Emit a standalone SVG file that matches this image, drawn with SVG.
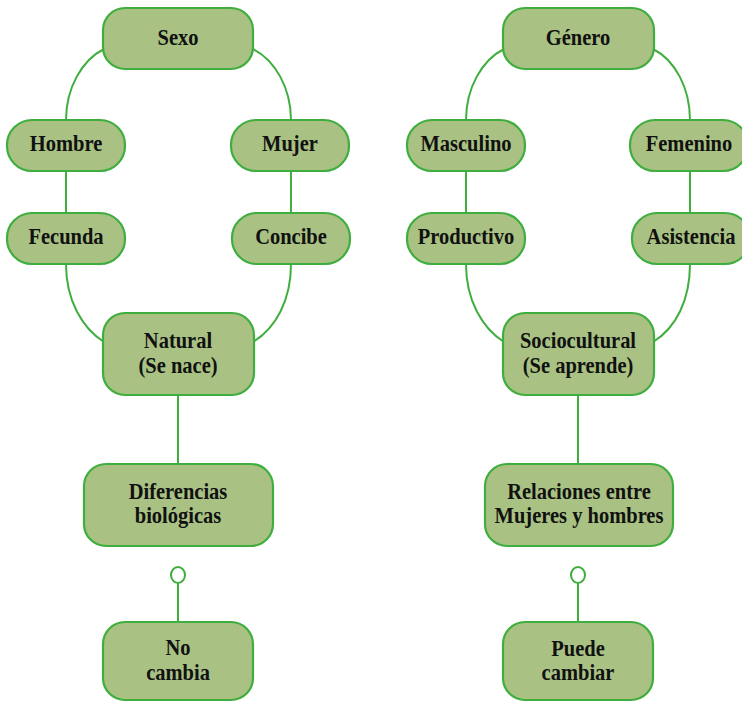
<svg xmlns="http://www.w3.org/2000/svg" width="742" height="702" viewBox="0 0 742 702">
<style>
.n{fill:#a9c283;stroke:#3fae3f;stroke-width:2.2}
.c{fill:none;stroke:#3fae3f;stroke-width:2}
text{font-family:"Liberation Serif","Times New Roman",serif;font-weight:bold;font-size:20.5px;fill:#111;text-anchor:middle}
</style>
<rect width="742" height="702" fill="#fff"/>
<g id="connectors">
<path class="c" d="M104,49 C82,60 66,88 66,120"/>
<path class="c" d="M253,49 C275,60 291,88 291,120"/>
<path class="c" d="M66,171 V213"/>
<path class="c" d="M291,171 V213"/>
<path class="c" d="M66,264 C66,300 82,328 104,342"/>
<path class="c" d="M291,264 C291,300 276,328 253,342"/>
<path class="c" d="M178,395 V464"/>
<path class="c" d="M178,583 V622"/>
<ellipse class="c" cx="178" cy="575" rx="7" ry="8"/>
<path class="c" d="M504,49 C482,60 466,88 466,120"/>
<path class="c" d="M653,49 C675,60 690,88 690,120"/>
<path class="c" d="M466,171 V213"/>
<path class="c" d="M690,171 V213"/>
<path class="c" d="M466,264 C466,300 482,328 504,342"/>
<path class="c" d="M690,264 C690,300 676,328 653,342"/>
<path class="c" d="M578,395 V464"/>
<path class="c" d="M578,583 V622"/>
<ellipse class="c" cx="578" cy="575" rx="7" ry="8"/>
</g>
<g id="sexo"><rect class="n" x="103" y="8" width="150" height="61" rx="22"/><text transform="translate(178,45) scale(1,1.08)">Sexo</text></g>
<g id="hombre"><rect class="n" x="7" y="120" width="118" height="51" rx="25"/><text transform="translate(66,151) scale(1,1.08)">Hombre</text></g>
<g id="mujer"><rect class="n" x="231" y="120" width="118" height="51" rx="25"/><text transform="translate(290,151) scale(1,1.08)">Mujer</text></g>
<g id="fecunda"><rect class="n" x="7" y="213" width="118" height="51" rx="25"/><text transform="translate(66,244) scale(1,1.08)">Fecunda</text></g>
<g id="concibe"><rect class="n" x="232" y="213" width="118" height="51" rx="25"/><text transform="translate(291,244) scale(1,1.08)">Concibe</text></g>
<g id="natural"><rect class="n" x="103" y="313" width="151" height="82" rx="22"/><text transform="translate(178,348) scale(1,1.08)">Natural</text><text transform="translate(178,373) scale(1,1.08)">(Se nace)</text></g>
<g id="diferencias"><rect class="n" x="84" y="464" width="189" height="82" rx="22"/><text transform="translate(178,499) scale(1,1.08)">Diferencias</text><text transform="translate(178,523) scale(1,1.08)">biológicas</text></g>
<g id="nocambia"><rect class="n" x="103" y="622" width="150" height="78" rx="22"/><text transform="translate(178,655) scale(1,1.08)">No</text><text transform="translate(178,680) scale(1,1.08)">cambia</text></g>
<g id="genero"><rect class="n" x="503" y="8" width="151" height="61" rx="22"/><text transform="translate(578,45) scale(1,1.08)">Género</text></g>
<g id="masculino"><rect class="n" x="407" y="120" width="118" height="51" rx="25"/><text transform="translate(466,151) scale(1,1.08)">Masculino</text></g>
<g id="femenino"><rect class="n" x="630" y="120" width="118" height="51" rx="25"/><text transform="translate(689,151) scale(1,1.08)">Femenino</text></g>
<g id="productivo"><rect class="n" x="407" y="213" width="118" height="51" rx="25"/><text transform="translate(466,244) scale(1,1.08)">Productivo</text></g>
<g id="asistencia"><rect class="n" x="632" y="213" width="118" height="51" rx="25"/><text transform="translate(691,244) scale(1,1.08)">Asistencia</text></g>
<g id="sociocultural"><rect class="n" x="503" y="313" width="151" height="82" rx="22"/><text transform="translate(578,348) scale(1,1.08)">Sociocultural</text><text transform="translate(578,373) scale(1,1.08)">(Se aprende)</text></g>
<g id="relaciones"><rect class="n" x="485" y="464" width="188" height="82" rx="22"/><text transform="translate(579,499) scale(1,1.08)">Relaciones entre</text><text transform="translate(579,523) scale(1,1.08)">Mujeres y hombres</text></g>
<g id="puedecambiar"><rect class="n" x="503" y="622" width="150" height="78" rx="22"/><text transform="translate(578,656) scale(1,1.08)">Puede</text><text transform="translate(578,680) scale(1,1.08)">cambiar</text></g>
</svg>
